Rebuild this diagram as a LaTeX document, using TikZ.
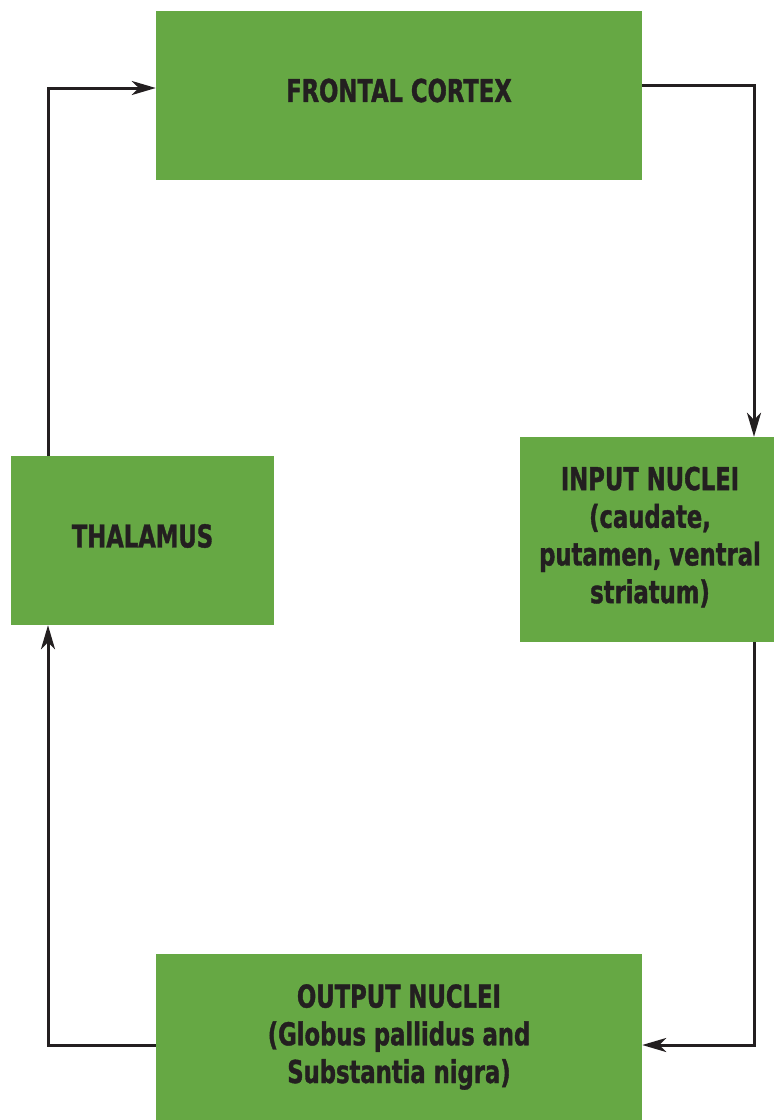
\documentclass[tikz,border=0pt]{standalone}
\usepackage{fontspec}
\newfontfamily\boxfont[FakeStretch=0.72,FakeBold=1.2]{DejaVu Sans}
\usetikzlibrary{arrows.meta}
\definecolor{boxgreen}{HTML}{66A844}
\definecolor{ink}{HTML}{231F20}
\tikzset{
  region/.style={fill=boxgreen, draw=none, inner sep=0pt},
  caption/.style={inner sep=0pt, align=center, text=ink,
    font=\boxfont\bfseries\fontsize{31.5}{37.7}\selectfont},
  link/.style={draw=ink, line width=3pt, line join=miter,
    -{Stealth[length=24pt,width=14pt,inset=7pt]}}
}
\begin{document}
\begin{tikzpicture}[x=1pt,y=-1pt]
\useasboundingbox (0,0) rectangle (774,1120);

% green boxes
\node[region, minimum width=486pt, minimum height=169pt] (frontal) at (399,95.5) {};
\node[region, minimum width=263pt, minimum height=169pt] (thalamus) at (142.5,540.5) {};
\node[region, minimum width=254pt, minimum height=205pt] (input) at (647,539.5) {};
\node[region, minimum width=486pt, minimum height=172pt] (output) at (399,1040) {};

% box captions
\node[caption] (frontal-text) at (399,90.5) {FRONTAL CORTEX};
\node[caption] (thalamus-text) at (142.5,536) {THALAMUS};
\node[caption] (input-text) at (650,537)
  {INPUT NUCLEI\\(caudate,\\putamen, ventral\\striatum)};
\node[caption] (output-text) at (399,1037)
  {OUTPUT NUCLEI\\(Globus pallidus and\\Substantia nigra)};

% corners of the loop
\coordinate (ne) at (754,85);
\coordinate (se) at (754,1045);
\coordinate (sw) at (48,1045);
\coordinate (nw) at (48,88);

\draw[link] (frontal.east |- ne) -- (ne) -- (input.north -| ne);
\draw[link] (input.south -| se) -- (se) -- (output.east |- se);
\draw[link] (output.west |- sw) -- (sw) -- (thalamus.south -| sw);
\draw[link] (thalamus.north -| nw) -- (nw) -- (frontal.west |- nw);
\end{tikzpicture}
\end{document}
